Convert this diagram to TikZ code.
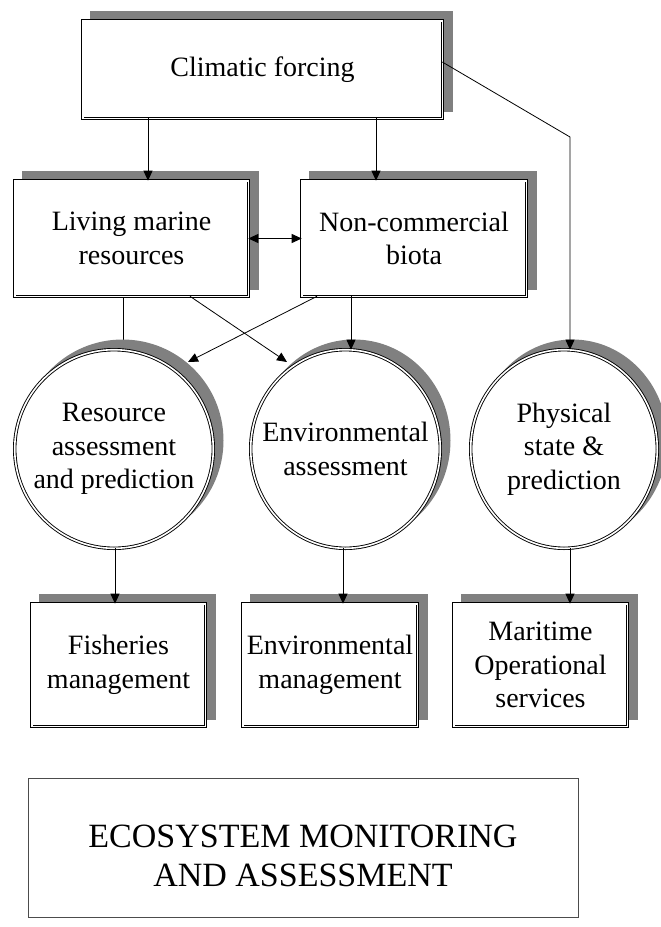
\documentclass[tikz,border=0pt]{standalone}
\usepackage{fontspec}
\setmainfont{Liberation Serif}
\usetikzlibrary{arrows.meta,shapes.geometric,backgrounds}
\tikzset{
  txt/.style={font=\fontsize{28}{33.6}\selectfont, align=center},
  dbl/.style={draw, double, double distance=1.6pt, line width=0.9pt, fill=white, outer sep=0pt, inner sep=0pt, txt},
  rbox/.style={dbl, rectangle},
  oval/.style={dbl, ellipse},
  ovaltext/.style={label={[txt]center:#1}},
  conn/.style={line width=0.8pt, draw=black},
  arr/.style={conn, -{Triangle[length=10pt,width=9pt]}},
  darr/.style={conn, {Triangle[length=10pt,width=9pt]}-{Triangle[length=10pt,width=9pt]}},
  shadowc/.style={fill=black!50},
  ecobox/.style={draw=black!70, line width=0.8pt, rectangle, outer sep=0pt, inner sep=0pt},
  ecotext/.style={label={[align=center, font=\fontsize{34}{38.5}\selectfont, yshift=-8pt]center:#1}}
}
\begin{document}
\begin{tikzpicture}[x=1pt,y=-1pt]
\useasboundingbox (0,0) rectangle (661,927);

% nodes
\node[rbox, minimum width=359.6pt, minimum height=97.6pt] (cf) at (262.5,69.5) {Climatic forcing};
\node[rbox, minimum width=233.6pt, minimum height=115.6pt] (lm) at (131.5,238.5) {Living marine\\resources};
\node[rbox, minimum width=224.6pt, minimum height=115.6pt] (nc) at (414,238.5) {Non-commercial\\biota};
\node[oval, minimum width=198.6pt, minimum height=198.6pt, ovaltext={Resource\\assessment\\and prediction}] (ra) at (114,449) {};
\node[oval, minimum width=189.6pt, minimum height=198.6pt, ovaltext={Environmental\\assessment}] (ea) at (345.5,449) {};
\node[oval, minimum width=186.6pt, minimum height=198.6pt, ovaltext={Physical\\state \&\\prediction}] (pa) at (564,449) {};
\node[rbox, minimum width=173.6pt, minimum height=122.6pt] (fm) at (118.5,665) {Fisheries\\management};
\node[rbox, minimum width=174.6pt, minimum height=122.6pt] (em) at (330,665) {Environmental\\management};
\node[rbox, minimum width=173.6pt, minimum height=122.6pt] (mo) at (540.5,665) {Maritime\\Operational\\services};
\node[ecobox, minimum width=550pt, minimum height=139pt, ecotext={ECOSYSTEM MONITORING\\AND ASSESSMENT}] (eco) at (303,848) {};

% helper coordinates
\coordinate (xa) at (148,0);
\coordinate (xb) at (376,0);
\coordinate (xc) at (570,0);
\coordinate (xd) at (123,0);
\coordinate (xe) at (115,0);
\coordinate (xf) at (343,0);
\coordinate (xg) at (351,0);
\coordinate (s1) at (190,0);
\coordinate (s2) at (317,0);
\coordinate (yr) at (0,62);
\coordinate (bend) at (570,137);
\coordinate (t1) at (287,362);
\coordinate (t2) at (188,362);

% shadows and hidden line
\begin{scope}[on background layer]
  \draw[conn] (lm.south -| xd) -- (ra.north -| xd);
  \foreach \n in {cf,lm,nc,fm,em,mo}
    \fill[shadowc] ([shift={(6.8pt,6.8pt)}]\n.south west) rectangle ([shift={(10.2pt,10.2pt)}]\n.north east);
  \fill[shadowc] ([shift={(8.5pt,8.5pt)}]ra.center) ellipse [x radius=101pt, y radius=101pt];
  \fill[shadowc] ([shift={(8.5pt,8.5pt)}]ea.center) ellipse [x radius=96.5pt, y radius=101pt];
  \fill[shadowc] ([shift={(8.5pt,8.5pt)}]pa.center) ellipse [x radius=95pt, y radius=101pt];
\end{scope}

% connectors
\draw[arr] (cf.south -| xa) -- (lm.north -| xa);
\draw[arr] (cf.south -| xb) -- (nc.north -| xb);
\draw[arr] (cf.east |- yr) -- (bend) -- (pa.north -| xc);
\draw[darr] (lm.east) -- (nc.west);
\draw[arr] (lm.south -| s1) -- (t1);
\draw[arr] (nc.south -| s2) -- (t2);
\draw[arr] (nc.south -| xg) -- (ea.north -| xg);
\draw[arr] (ra.south -| xe) -- (fm.north -| xe);
\draw[arr] (ea.south -| xf) -- (em.north -| xf);
\draw[arr] (pa.south -| xc) -- (mo.north -| xc);
\end{tikzpicture}
\end{document}
